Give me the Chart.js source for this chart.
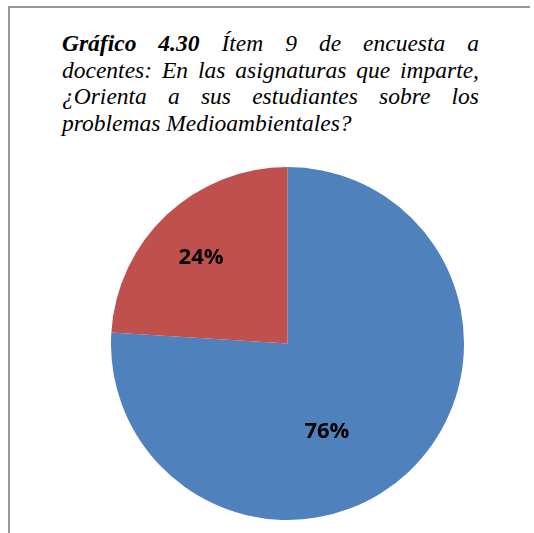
<!DOCTYPE html>
<html>
<head>
<meta charset="utf-8">
<script src="https://cdn.jsdelivr.net/npm/chart.js@4"></script>
<style>
  html, body { margin: 0; padding: 0; background: #fff; }
  body { width: 534px; height: 533px; position: relative; overflow: hidden; }
  .frame-top { position: absolute; left: 8px; top: 6px; width: 522px; height: 2px; background: #999; }
  .frame-left { position: absolute; left: 8px; top: 6px; width: 2px; height: 527px; background: #999; }
  .title {
    position: absolute; left: 62px; top: 30px; width: 417px;
    font-family: "Liberation Serif", "Times New Roman", serif;
    font-style: italic; font-size: 23.5px; line-height: 26.7px; color: #000;
  }
  .title div { text-align: justify; text-align-last: justify; white-space: nowrap; }
  .title div.last { text-align-last: left; }
  .title b { font-weight: bold; }
  .pie-box { position: absolute; left: 111px; top: 167px; width: 353px; height: 353px; }
</style>
</head>
<body>
<div class="frame-top"></div>
<div class="frame-left"></div>
<div class="title">
  <div><b>Gráfico 4.30</b> Ítem 9 de encuesta a</div>
  <div>docentes: En las asignaturas que imparte,</div>
  <div>¿Orienta a sus estudiantes sobre los</div>
  <div class="last">problemas Medioambientales?</div>
</div>
<div class="pie-box"><canvas id="pieChart"></canvas></div>
<script>

// DATA ########################################################################

var categories = ["Sí", "No"];
var percents = [76, 24];
var sliceColors = ["#4F81BD", "#C0504D"];

// label offsets from the slice's default center point (pixels)
var labelShift = [[-21, 24], [-26, -21]];


// PIE CHART ###################################################################

var percentLabels = {
    id: 'percentLabels',
    afterDatasetsDraw: function (chart) {
        var ctx = chart.ctx;
        var meta = chart.getDatasetMeta(0);
        ctx.save();
        ctx.font = "bold 22px 'Open Sans', sans-serif";
        ctx.fillStyle = "#000";
        ctx.textAlign = "center";
        ctx.textBaseline = "middle";
        meta.data.forEach(function (arc, i) {
            var p = arc.getCenterPoint();
            ctx.fillText(percents[i] + "%", p.x + labelShift[i][0], p.y + labelShift[i][1]);
        });
        ctx.restore();
    }
};

var myPieChart = new Chart(document.getElementById("pieChart"), {
    type: 'pie',
    data: {
        labels: categories,
        datasets: [{
            data: percents,
            backgroundColor: sliceColors,
            borderWidth: 0
        }]
    },
    options: {
        responsive: true,
        maintainAspectRatio: false,
        animation: false,
        plugins: {
            legend: { display: false },
            tooltip: { enabled: false }
        }
    },
    plugins: [percentLabels]
});
</script>
</body>
</html>
